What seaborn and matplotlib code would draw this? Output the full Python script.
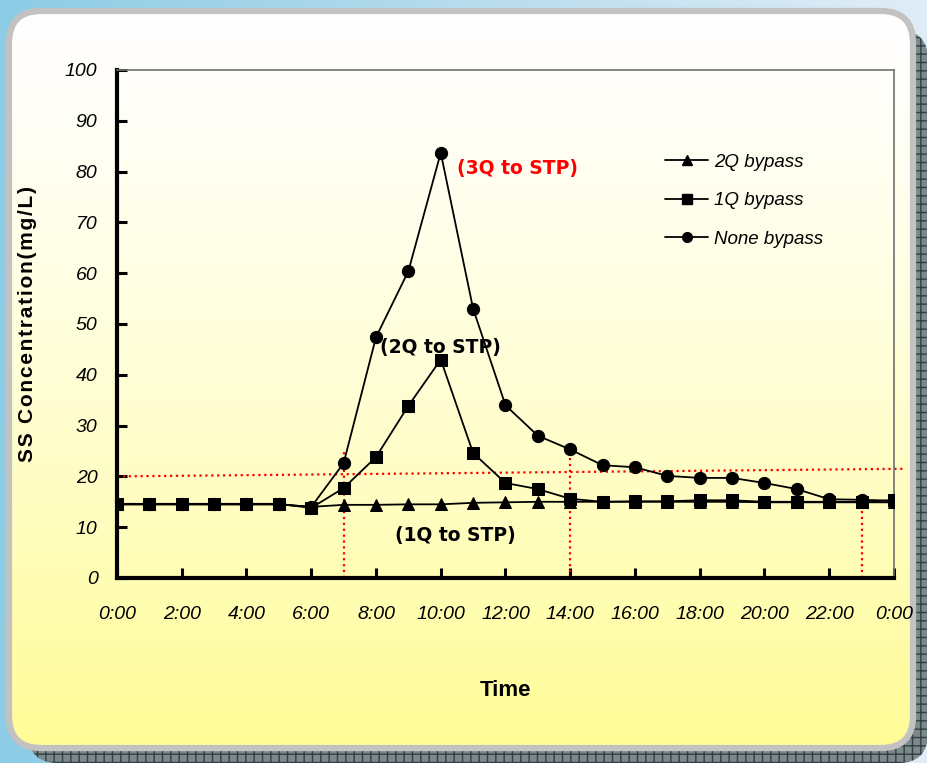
import numpy as np
import pandas as pd
import seaborn as sns
from matplotlib import pyplot as plt
from matplotlib import font_manager
from matplotlib.patches import FancyBboxPatch
from matplotlib.lines import Line2D

hours = list(range(25))
tick_hours = [0, 2, 4, 6, 8, 10, 12, 14, 16, 18, 20, 22, 24]
tick_labels = ['0:00', '2:00', '4:00', '6:00', '8:00', '10:00', '12:00',
               '14:00', '16:00', '18:00', '20:00', '22:00', '0:00']

bypass_2q = [14.5, 14.5, 14.5, 14.5, 14.5, 14.5, 14.0, 14.4, 14.4, 14.5, 14.5, 14.8, 14.9,
             15.0, 15.0, 15.0, 15.0, 15.0, 15.0, 15.0, 14.9, 14.9, 14.9, 14.9, 14.9]
bypass_1q = [14.6, 14.6, 14.6, 14.6, 14.6, 14.6, 13.8, 17.7, 23.8, 33.9, 43.0, 24.6, 18.7,
             17.5, 15.6, 15.0, 15.1, 15.1, 15.3, 15.3, 15.0, 15.0, 15.0, 15.0, 15.3]
bypass_none = [14.5, 14.5, 14.5, 14.5, 14.5, 14.5, 14.0, 22.6, 47.4, 60.4, 83.7, 53.0, 34.0,
               28.0, 25.3, 22.2, 21.8, 20.1, 19.7, 19.7, 18.7, 17.5, 15.5, 15.4, 15.2]

# red guide lines
limit_x = [0, 24.35]
limit_y = [20.0, 21.5]
guide_hours = [7.0, 14.0, 23.0]
guide_tops = [25.0, 25.5, 15.5]

df = pd.DataFrame({'Hour': hours * 3,
                   'SS': bypass_2q + bypass_1q + bypass_none,
                   'Case': ['2Q bypass'] * 25 + ['1Q bypass'] * 25 + ['None bypass'] * 25})

try:
    font_manager.findfont('Liberation Sans Narrow', fallback_to_default=False)
    tick_font = 'Liberation Sans Narrow'
except Exception:
    tick_font = 'Liberation Sans'

sns.set_style('ticks')
plt.rcParams['font.family'] = ['DejaVu Sans']
plt.rcParams['text.color'] = 'black'
plt.rcParams['xtick.color'] = 'black'
plt.rcParams['ytick.color'] = 'black'

fig = plt.figure(figsize=(9.28, 7.63), dpi=100)

# background: slide-like rounded panel
bg = fig.add_axes([0, 0, 1, 1], zorder=-10)
bg.set_xlim(0, 928)
bg.set_ylim(763, 0)
bg.axis('off')
blue = np.linspace(0, 1, 200)
blue_img = np.zeros((2, 200, 3))
blue_img[:, :, 0] = 0.55 + 0.33 * blue
blue_img[:, :, 1] = 0.80 + 0.13 * blue
blue_img[:, :, 2] = 0.90 + 0.07 * blue
bg.imshow(blue_img, extent=(0, 928, 763, 0), aspect='auto', zorder=0)
shadow = FancyBboxPatch((28, 30), 900, 733, boxstyle='round,pad=0,rounding_size=30',
                        facecolor='#7b898d', edgecolor='#33403f', hatch='++', lw=0, zorder=1)
bg.add_patch(shadow)
panel = FancyBboxPatch((9, 11), 904, 737, boxstyle='round,pad=0,rounding_size=32',
                       facecolor='none', edgecolor='#c2c2c2', lw=4.5, zorder=3)
bg.add_patch(panel)
t = np.linspace(0, 1, 300) ** 1.3
grad = np.zeros((300, 2, 3))
grad[:, :, 0] = 1.0
grad[:, :, 1] = 1.0 - 0.01 * t[:, None]
grad[:, :, 2] = 1.0 - 0.41 * t[:, None]
im = bg.imshow(grad, extent=(9, 913, 748, 11), aspect='auto', zorder=2)
im.set_clip_path(panel)

ax = fig.add_axes([117 / 928, 1 - 578 / 763, (894 - 117) / 928, (578 - 70) / 763])
ax.set_facecolor('none')

styles = {'2Q bypass': '^', '1Q bypass': 's', 'None bypass': 'o'}
zorders = {'2Q bypass': 3, 'None bypass': 4, '1Q bypass': 5}
for case in ['2Q bypass', 'None bypass', '1Q bypass']:
    sns.lineplot(data=df[df['Case'] == case], x='Hour', y='SS', ax=ax, color='black',
                 marker=styles[case], markersize=8.8, markeredgecolor='black',
                 linewidth=1.3, zorder=zorders[case], legend=False)

ax.plot(limit_x, limit_y, color='red', linestyle=':', linewidth=1.6, clip_on=False, zorder=2)
for gx, gt in zip(guide_hours, guide_tops):
    ax.plot([gx, gx], [0, gt], color='red', linestyle=':', linewidth=1.6, zorder=2)

ax.set_xlim(0, 24)
ax.set_ylim(0, 100)
ax.set_xticks(tick_hours)
ax.set_xticklabels(tick_labels)
ax.set_yticks(range(0, 101, 10))
ax.tick_params(axis='both', direction='in', length=7, width=2.2, color='black',
               labelcolor='black')
ax.tick_params(axis='x', pad=20)
ax.tick_params(axis='y', pad=14)
for lab in ax.get_xticklabels() + ax.get_yticklabels():
    lab.set_fontfamily(tick_font)
    lab.set_fontstyle('italic')
    lab.set_fontsize(14)
for side in ['left', 'bottom']:
    ax.spines[side].set_linewidth(3)
    ax.spines[side].set_color('black')
for side in ['top', 'right']:
    ax.spines[side].set_visible(True)
    ax.spines[side].set_linewidth(1.2)
    ax.spines[side].set_color('#707070')

ax.set_xlabel('Time', fontsize=16, fontweight='bold', family='Liberation Sans',
              labelpad=41, color='black')
ylab = '\u200a'.join('SS Concentration(mg/L)')
ax.set_ylabel(ylab, fontsize=15, fontweight='bold', labelpad=20, color='black',
              family=['Liberation Sans', 'DejaVu Sans'])

ax.text(10.5, 79.6, '(3Q to STP)', color='red', fontsize=13.5, fontweight='bold')
ax.text(10.0, 44.2, '(2Q to STP)', color='black', fontsize=13.5, fontweight='bold', ha='center')
ax.text(10.45, 7.2, '(1Q to STP)', color='black', fontsize=13.5, fontweight='bold', ha='center')

handles = [Line2D([], [], color='black', marker=styles[c], markersize=7, linewidth=1.3)
           for c in ['2Q bypass', '1Q bypass', 'None bypass']]
leg = ax.legend(handles, ['2Q bypass', '1Q bypass', 'None bypass'], loc='upper left',
                bbox_to_anchor=(0.684, 0.869), frameon=False, handlelength=2.3,
                handletextpad=0.3, labelspacing=1.15, labelcolor='black',
                prop={'family': 'Liberation Sans', 'style': 'italic', 'size': 13.5})

fig.savefig('out.png', dpi=100)
